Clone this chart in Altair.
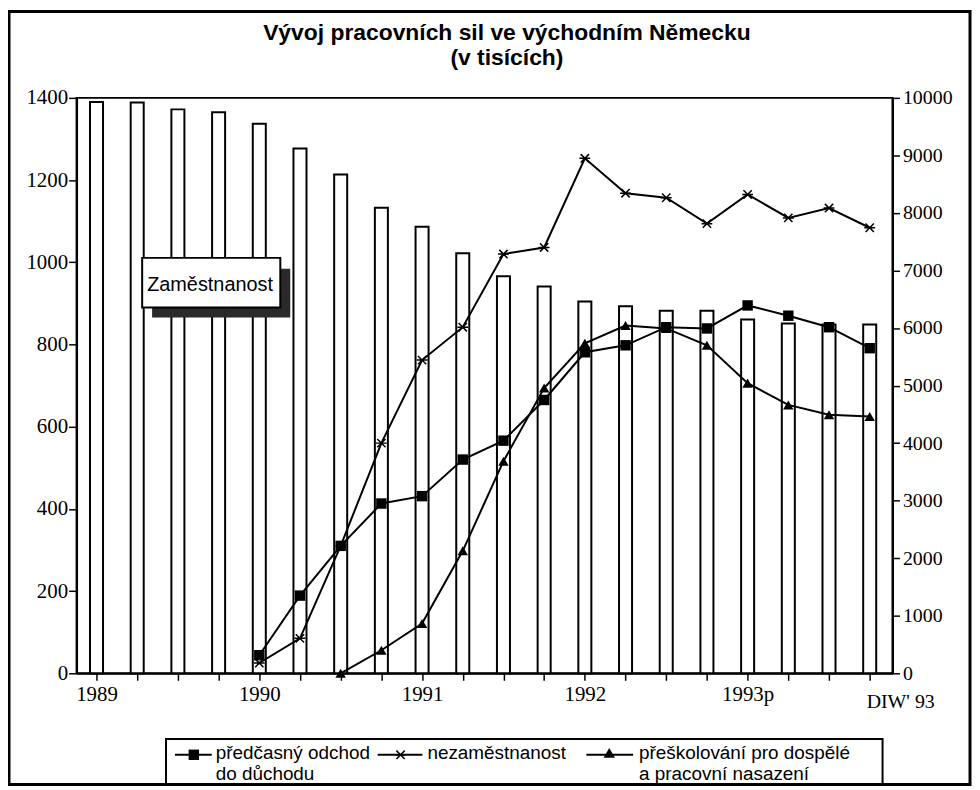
import altair as alt
import pandas as pd

# ---------------- data ----------------
quarters = list(range(20))  # 1989 Q1 ... 1993 Q4
tick_labels = {0: "1989", 4: "1990", 8: "1991", 12: "1992", 16: "1993p"}

employment = [9930, 9920, 9800, 9750, 9550, 9120, 8670, 8090, 7760, 7300,
              6900, 6720, 6460, 6380, 6300, 6300, 6150, 6080, 6060, 6060]
early_retirement = [None, None, None, None, 44, 189, 310, 413, 431, 520,
                    566, 665, 781, 798, 842, 839, 895, 870, 842, 791]
unemployment = [None, None, None, None, 25, 85, 310, 560, 762, 842,
                1020, 1036, 1253, 1168, 1157, 1094, 1165, 1108, 1132, 1084]
retraining = [None, None, None, None, None, None, 0, 56, 121, 298,
              516, 694, 803, 846, 839, 798, 706, 653, 629, 625]

series_names = ["předčasný odchod do důchodu", "nezaměstnanost",
                "přeškolování pro dospělé a pracovní nasazení"]

bars_df = pd.DataFrame({"q": quarters, "employment": employment})
rows = []
for name, vals in zip(series_names, [early_retirement, unemployment, retraining]):
    for q, v in zip(quarters, vals):
        if v is not None:
            rows.append({"q": q, "value": v, "series": name})
lines_df = pd.DataFrame(rows)
one = pd.DataFrame({"a": [0]})

W, H = 821, 579
SERIF = "Liberation Serif"
SANS = "Liberation Sans"

label_expr = " : ".join(
    f"datum.value == {k} ? '{v}'" for k, v in tick_labels.items()) + " : ''"

x_scale = alt.Scale(domain=[-0.49, 19.56], nice=False, zero=False)
x_axis = alt.Axis(values=quarters, labelExpr=label_expr, title=None,
                  labelFont=SERIF, labelFontSize=21, labelColor="black",
                  tickColor="black", tickSize=7, tickWidth=1.5,
                  domainColor="black", domainWidth=2, labelPadding=3,
                  grid=False, labelFlush=False, labelOverlap=False)
x_enc = alt.X("q:Q", scale=x_scale, axis=x_axis)

# ---------------- bars (right axis) ----------------
bars = alt.Chart(bars_df).transform_calculate(
    q0="datum.q - 0.16", q1="datum.q + 0.16"
).mark_rect(fill="white", stroke="black", strokeWidth=2).encode(
    x=alt.X("q0:Q", scale=x_scale, axis=x_axis),
    x2="q1:Q",
    y=alt.Y("employment:Q",
            scale=alt.Scale(domain=[0, 10000], nice=False),
            axis=alt.Axis(orient="right", values=list(range(0, 10001, 1000)),
                          format="d",
                          title=None, labelFont=SERIF, labelFontSize=20,
                          labelColor="black", tickColor="black", tickSize=7,
                          tickWidth=1.5, domainColor="black", domainWidth=2,
                          labelPadding=3, grid=False)),
)

y_left = alt.Scale(domain=[0, 1400], nice=False)

lines = alt.Chart(lines_df).mark_line(color="black", strokeWidth=2).encode(
    x=x_enc,
    y=alt.Y("value:Q", scale=y_left,
            axis=alt.Axis(orient="left", values=list(range(0, 1401, 200)),
                          format="d",
                          title=None, labelFont=SERIF, labelFontSize=21,
                          labelColor="black", tickColor="black", tickSize=8,
                          tickWidth=1.5, domainColor="black", domainWidth=2,
                          labelPadding=1, grid=False)),
    detail="series:N",
)

def pts(series, **kw):
    return alt.Chart(lines_df).transform_filter(
        alt.datum.series == series
    ).mark_point(**kw).encode(
        x=x_enc,
        y=alt.Y("value:Q", scale=y_left, axis=None),
    )

XSHAPE = "M-1,-1L1,1M-1,1L1,-1M-1.3,0L1.3,0"
sq = pts(series_names[0], shape="square", filled=True, color="black", size=110, opacity=1)
xs = pts(series_names[1], shape=XSHAPE, filled=False, color="black", size=70,
         strokeWidth=1.5, opacity=1)
tri = pts(series_names[2], shape="triangle-up", filled=True, color="black", size=110, opacity=1)

# ---------------- annotations ----------------
def txt(text, x, y, size=20, font=SANS, weight="normal", align="left"):
    return alt.Chart(one).mark_text(font=font, fontSize=size, fontWeight=weight,
                                    align=align, baseline="alphabetic",
                                    color="black").encode(
        x=alt.value(x), y=alt.value(y), text=alt.value(text))

def box(x, x2, y, y2, **kw):
    return alt.Chart(one).mark_rect(**kw).encode(
        x=alt.value(x), x2=alt.value(x2), y=alt.value(y), y2=alt.value(y2))

def seg(x, x2, y):
    return alt.Chart(one).mark_rule(color="black", strokeWidth=2).encode(
        x=alt.value(x), x2=alt.value(x2), y=alt.value(y))

def marker(x, y, **kw):
    return alt.Chart(one).mark_point(color="black", opacity=1, **kw).encode(
        x=alt.value(x), y=alt.value(y))

title1 = txt("Vývoj pracovních sil ve východním Německu", 433, -58, size=23,
             weight="bold", align="center")
title2 = txt("(v tisících)", 433, -33, size=23, weight="bold", align="center")

shadow = box(76, 215, 172, 221, fill="#2a2a2a")
ann_box = box(66, 205, 161, 211, fill="white", stroke="black", strokeWidth=2)
ann_txt = txt("Zaměstnanost", 71, 194, size=20)

diw = txt("DIW' 93", 795, 614, size=20, font=SERIF)

outer = box(-68, 899, -87, 691, fillOpacity=0, stroke="black", strokeWidth=3)
leg_box = box(90, 811, 645, 691, fillOpacity=0, stroke="black", strokeWidth=2)

L1, L2 = 665, 686
leg = [
    seg(99, 136, 661), marker(118, 661, shape="square", filled=True, size=110),
    txt("předčasný odchod", 140, L1, size=19),
    txt("do důchodu", 140, L2, size=19),
    seg(303, 348, 661), marker(326, 661, shape=XSHAPE, filled=False, size=70, strokeWidth=1.5),
    txt("nezaměstnanost", 353, L1, size=19),
    seg(513, 560, 661), marker(536, 659, shape="triangle-up", filled=True, size=130),
    txt("přeškolování pro dospělé", 566, L1, size=19),
    txt("a pracovní nasazení", 566, L2, size=19),
]

chart = alt.layer(
    bars, lines, sq, xs, tri,
    shadow, ann_box, ann_txt, title1, title2, diw, outer, leg_box, *leg
).resolve_scale(y="independent").properties(
    width=W, height=H,
    autosize=alt.AutoSizeParams(type="none"),
    padding={"left": 69, "top": 88, "right": 80, "bottom": 114},
    background="white",
).configure_view(stroke="black", strokeWidth=2)

chart.save("out.html", embed_options={"renderer": "svg", "actions": False})
